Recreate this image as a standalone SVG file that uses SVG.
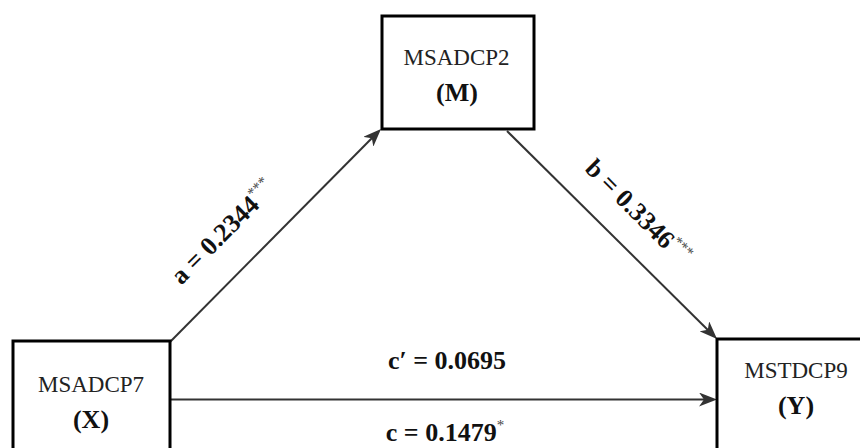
<svg xmlns="http://www.w3.org/2000/svg" width="860" height="448" viewBox="0 0 860 448">
<style>
.box{fill:#fff;stroke:#000;stroke-width:3}
.nm{font-family:"Liberation Serif",serif;font-size:23px;fill:#222;text-anchor:middle}
.nl{font-family:"Liberation Serif",serif;font-size:26px;font-weight:bold;fill:#111;text-anchor:middle}
.conn{stroke:#333;stroke-width:2;fill:none;marker-end:url(#arr)}
.lab{font-family:"Liberation Serif",serif;font-size:26px;font-weight:bold;fill:#111;text-anchor:middle}
.st{font-size:15px;font-weight:normal;fill:#444}
</style>
<defs>
<marker id="arr" markerUnits="userSpaceOnUse" markerWidth="18" markerHeight="14" viewBox="0 0 18 14" refX="14" refY="7" orient="auto">
<path d="M0,0 L18,7 L0,14 L5,7 z" fill="#333"/>
</marker>
</defs>
<g id="connectors">
<line class="conn" x1="170" y1="342" x2="378.2" y2="131.8"/>
<line class="conn" x1="507" y1="131" x2="714.2" y2="336.2"/>
<line class="conn" x1="170" y1="399.5" x2="713" y2="399.5"/>
</g>
<g id="labels">
<text class="lab" transform="translate(229,238) rotate(-45)">a = 0.2344<tspan class="st" dy="-11">***</tspan></text>
<text class="lab" transform="translate(632,218) rotate(45)">b = 0.3346<tspan class="st" dy="-11">***</tspan></text>
<text class="lab" x="447" y="369">c′ = 0.0695</text>
<text class="lab" x="445" y="441">c = 0.1479<tspan class="st" dy="-11">*</tspan></text>
</g>
<g id="node-M">
<rect class="box" x="382" y="16" width="152" height="113"/>
<text class="nm" x="456.5" y="65">MSADCP2</text>
<text class="nl" x="457" y="101">(M)</text>
</g>
<g id="node-X">
<rect class="box" x="13" y="341" width="157" height="120"/>
<text class="nm" x="91" y="392">MSADCP7</text>
<text class="nl" x="91" y="428">(X)</text>
</g>
<g id="node-Y">
<rect class="box" x="717" y="339" width="158" height="120"/>
<text class="nm" x="796" y="378">MSTDCP9</text>
<text class="nl" x="796" y="414">(Y)</text>
</g>
</svg>
